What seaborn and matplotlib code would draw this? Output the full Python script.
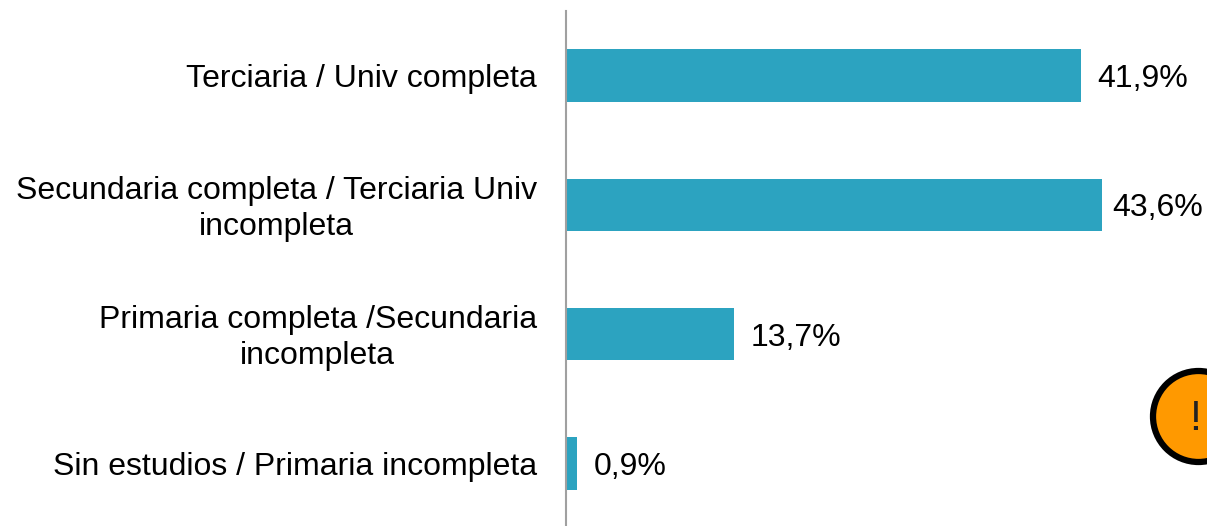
import matplotlib
matplotlib.use("Agg")
import matplotlib.pyplot as plt
import pandas as pd
import seaborn as sns
from matplotlib.patches import Circle
from matplotlib.transforms import ScaledTranslation

categories = ["Terciaria / Univ completa",
              "Secundaria completa / Terciaria Univ\nincompleta",
              "Primaria completa /Secundaria\nincompleta",
              "Sin estudios / Primaria incompleta"]
values = [41.9, 43.6, 13.7, 0.9]
value_labels = ["41,9%", "43,6%", "13,7%", "0,9%"]

sns.set_theme(style="white")
plt.rcParams["font.family"] = ["Liberation Sans", "DejaVu Sans"]

W, H = 1207, 526
fig = plt.figure(figsize=(W / 100, H / 100), dpi=100)
ax = fig.add_axes([566 / W, -2 / H, (W - 566) / W, 517 / H])

df = pd.DataFrame({"cat": categories, "val": values})
sns.barplot(data=df, y="cat", x="val", color="#2CA3C0", saturation=1, width=0.405,
            linewidth=0, ax=ax)

ax.set_xlim(0, (W - 566) / 12.29)
ax.set_xlabel("")
ax.set_ylabel("")
ax.set_xticks([])
ax.tick_params(axis="y", length=0, pad=21)
up = ScaledTranslation(0, 2.5 / 100, fig.dpi_scale_trans)
for lab in ax.get_yticklabels():
    lab.set_fontsize(23)
    lab.set_color("black")
    lab.set_multialignment("center")
    lab.set_linespacing(1.27)
    if "\n" in lab.get_text():
        lab.set_transform(lab.get_transform() + up)

bar_texts = ax.bar_label(ax.containers[0], labels=value_labels, padding=12, fontsize=23, color="black")
for t in bar_texts:
    t.xyann = (t.xyann[0], -2.5)
# the 43,6% label sits closer to its bar so it fits in the frame
bar_texts[1].xyann = (7.5, -2.5)

sns.despine(ax=ax, left=False, right=True, top=True, bottom=True)
ax.spines["left"].set_color("#A0A0A0")
ax.spines["left"].set_linewidth(1.5)

# warning badge, partly off the right edge
fig.add_artist(Circle((1198.5, H - 416.5), 45.5, transform=None, facecolor="#FF9900",
                      edgecolor="black", linewidth=4.5))
fig.text(1195 / W, 1 - 419 / H, "!", ha="center", va="center", fontsize=31, color="#222222",
         fontfamily="Liberation Sans")

fig.savefig("out.png", dpi=100)
